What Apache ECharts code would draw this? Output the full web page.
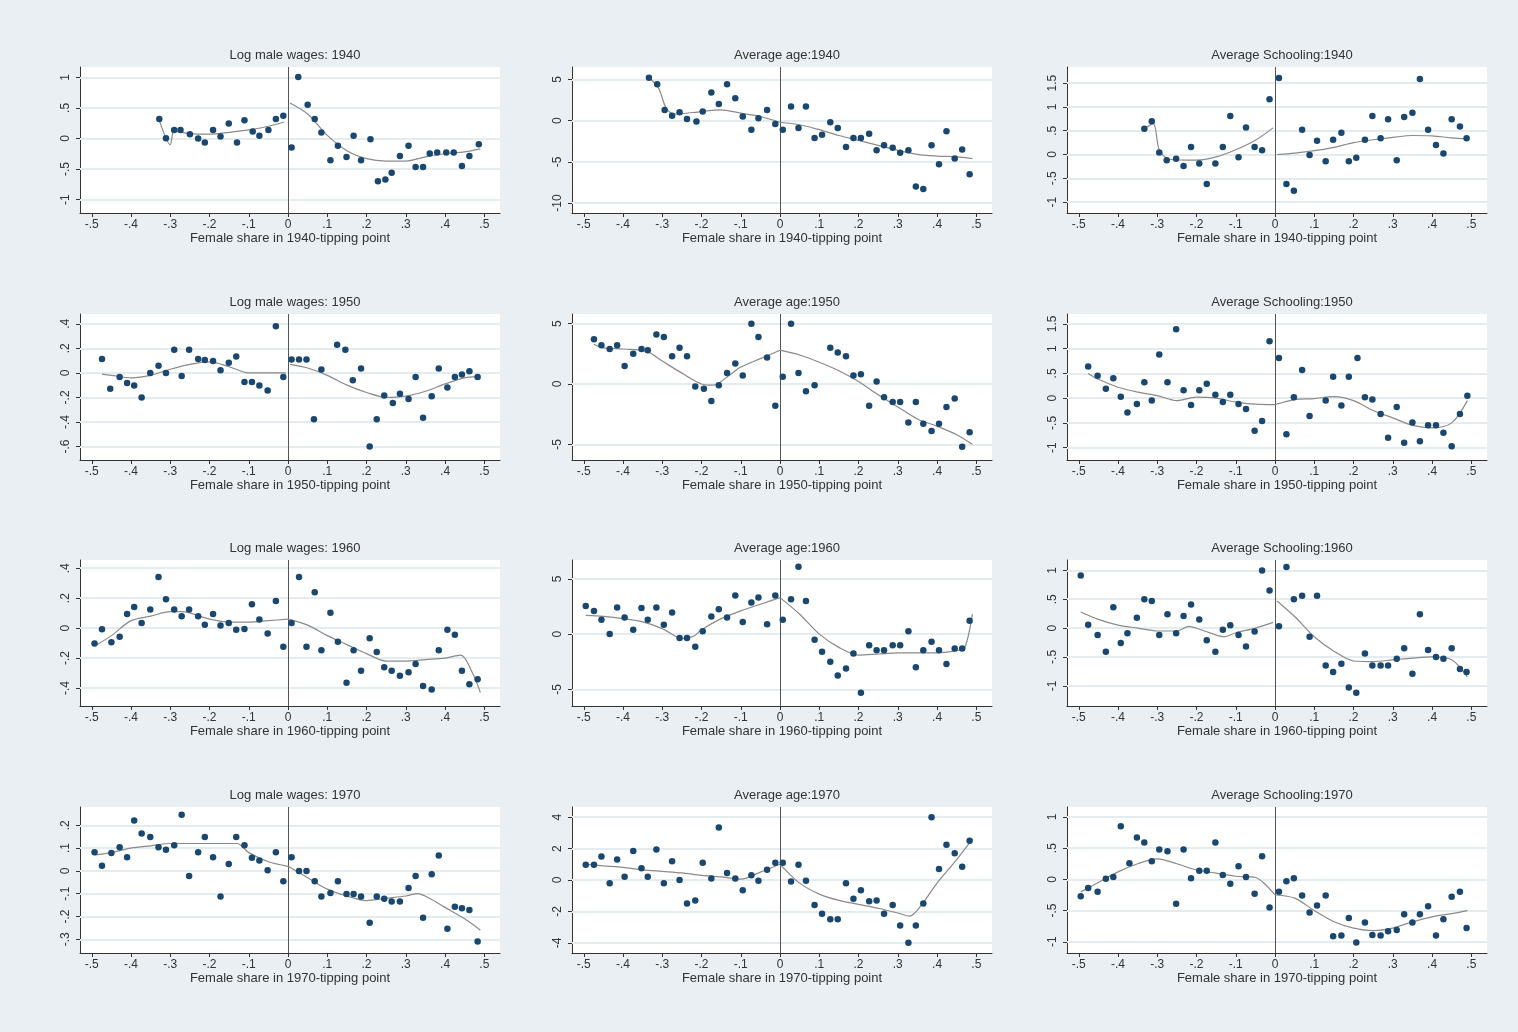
<!DOCTYPE html>
<html><head><meta charset="utf-8">
<script src="https://cdn.jsdelivr.net/npm/echarts@6/dist/echarts.min.js"></script>
<style>html,body{margin:0;background:#e9eff2}#chart{width:1518px;height:1032px}</style>
</head><body><div id="chart"></div>
<script>
// panel titles
const titles = ["Log male wages: 1940","Average age:1940","Average Schooling:1940",
  "Log male wages: 1950","Average age:1950","Average Schooling:1950",
  "Log male wages: 1960","Average age:1960","Average Schooling:1960",
  "Log male wages: 1970","Average age:1970","Average Schooling:1970"];
const years = [1940,1950,1960,1970];
const xTicks = [-0.5,-0.4,-0.3,-0.2,-0.1,0,0.1,0.2,0.3,0.4,0.5];

// y ticks and axis ranges per panel
const yTicks = [
  [-1,-0.5,0,0.5,1],[-10,-5,0,5],[-1,-0.5,0,0.5,1,1.5],
  [-0.6,-0.4,-0.2,0,0.2,0.4],[-5,0,5],[-1,-0.5,0,0.5,1,1.5],
  [-0.4,-0.2,0,0.2,0.4],[-5,0,5],[-1,-0.5,0,0.5,1],
  [-0.3,-0.2,-0.1,0,0.1,0.2],[-4,-2,0,2,4],[-1,-0.5,0,0.5,1]];
const yRange = [[-1.22,1.17],[-11.2,6.5],[-1.23,1.84],[-0.71,0.48],[-6.3,5.8],[-1.25,1.7],
  [-0.52,0.455],[-6.5,6.7],[-1.35,1.18],[-0.36,0.28],[-4.65,4.65],[-1.18,1.16]];

// scatter points: x, y
const px = [
 [-0.328,-0.311,-0.29,-0.274,-0.25,-0.229,-0.212,-0.191,-0.172,-0.151,-0.13,-0.111,-0.09,-0.073,-0.05,-0.031,-0.012,0.009,0.026,0.05,0.068,0.085,0.108,0.127,0.149,0.167,0.186,0.21,0.229,0.248,0.264,0.285,0.307,0.325,0.344,0.361,0.38,0.403,0.422,0.443,0.462,0.486],
 [-0.334,-0.313,-0.294,-0.275,-0.256,-0.237,-0.213,-0.197,-0.175,-0.156,-0.135,-0.114,-0.095,-0.073,-0.055,-0.033,-0.012,0.007,0.028,0.047,0.066,0.088,0.107,0.128,0.147,0.168,0.187,0.206,0.227,0.246,0.265,0.287,0.306,0.327,0.346,0.365,0.386,0.405,0.424,0.445,0.464,0.483],
 [-0.333,-0.314,-0.295,-0.276,-0.252,-0.233,-0.214,-0.193,-0.174,-0.152,-0.133,-0.114,-0.093,-0.074,-0.052,-0.033,-0.014,0.01,0.029,0.048,0.069,0.088,0.107,0.129,0.148,0.169,0.188,0.207,0.229,0.248,0.269,0.288,0.31,0.329,0.35,0.369,0.39,0.41,0.429,0.45,0.471,0.488],
 [-0.474,-0.453,-0.429,-0.41,-0.392,-0.373,-0.351,-0.33,-0.311,-0.29,-0.271,-0.252,-0.229,-0.212,-0.191,-0.172,-0.151,-0.132,-0.111,-0.092,-0.073,-0.052,-0.031,-0.012,0.009,0.028,0.047,0.066,0.085,0.125,0.146,0.165,0.186,0.208,0.226,0.245,0.267,0.285,0.307,0.325,0.344,0.366,0.384,0.406,0.425,0.443,0.462,0.483],
 [-0.474,-0.455,-0.434,-0.415,-0.396,-0.374,-0.353,-0.337,-0.315,-0.296,-0.275,-0.256,-0.237,-0.216,-0.194,-0.175,-0.156,-0.135,-0.114,-0.095,-0.073,-0.055,-0.033,-0.012,0.007,0.028,0.047,0.066,0.088,0.128,0.147,0.168,0.187,0.206,0.227,0.246,0.265,0.287,0.306,0.327,0.346,0.365,0.386,0.405,0.424,0.445,0.464,0.483],
 [-0.476,-0.452,-0.431,-0.412,-0.393,-0.376,-0.352,-0.333,-0.314,-0.295,-0.274,-0.252,-0.233,-0.214,-0.193,-0.174,-0.152,-0.133,-0.114,-0.093,-0.074,-0.052,-0.033,-0.014,0.01,0.029,0.048,0.069,0.088,0.129,0.148,0.169,0.188,0.21,0.229,0.248,0.269,0.288,0.31,0.329,0.35,0.369,0.39,0.41,0.429,0.45,0.471,0.49],
 [-0.493,-0.474,-0.45,-0.429,-0.41,-0.392,-0.373,-0.351,-0.33,-0.311,-0.29,-0.271,-0.252,-0.229,-0.212,-0.191,-0.172,-0.151,-0.132,-0.111,-0.092,-0.073,-0.052,-0.031,-0.012,0.009,0.028,0.047,0.068,0.085,0.108,0.127,0.149,0.167,0.186,0.208,0.226,0.245,0.264,0.285,0.307,0.325,0.344,0.366,0.384,0.406,0.425,0.443,0.462,0.483],
 [-0.495,-0.474,-0.455,-0.434,-0.415,-0.396,-0.374,-0.353,-0.337,-0.315,-0.296,-0.275,-0.256,-0.237,-0.216,-0.197,-0.175,-0.156,-0.135,-0.114,-0.095,-0.073,-0.055,-0.033,-0.012,0.007,0.028,0.047,0.066,0.088,0.107,0.128,0.147,0.168,0.187,0.206,0.227,0.246,0.265,0.287,0.306,0.327,0.346,0.365,0.386,0.405,0.424,0.445,0.464,0.483],
 [-0.495,-0.476,-0.452,-0.431,-0.412,-0.393,-0.376,-0.352,-0.333,-0.314,-0.295,-0.274,-0.252,-0.233,-0.214,-0.193,-0.174,-0.152,-0.133,-0.114,-0.093,-0.074,-0.052,-0.033,-0.014,0.01,0.029,0.048,0.069,0.088,0.107,0.129,0.148,0.169,0.188,0.207,0.229,0.248,0.269,0.288,0.31,0.329,0.35,0.369,0.39,0.41,0.429,0.45,0.471,0.488],
 [-0.493,-0.474,-0.45,-0.429,-0.41,-0.392,-0.373,-0.351,-0.33,-0.311,-0.29,-0.271,-0.252,-0.229,-0.212,-0.191,-0.172,-0.151,-0.132,-0.111,-0.092,-0.073,-0.052,-0.031,-0.012,0.009,0.028,0.047,0.068,0.085,0.108,0.127,0.149,0.167,0.186,0.208,0.226,0.245,0.264,0.285,0.307,0.325,0.344,0.366,0.384,0.406,0.425,0.443,0.462,0.483],
 [-0.495,-0.474,-0.455,-0.434,-0.415,-0.396,-0.374,-0.353,-0.337,-0.315,-0.296,-0.275,-0.256,-0.237,-0.216,-0.197,-0.175,-0.156,-0.135,-0.114,-0.095,-0.073,-0.055,-0.033,-0.012,0.007,0.028,0.047,0.066,0.088,0.107,0.128,0.147,0.168,0.187,0.206,0.227,0.246,0.265,0.287,0.306,0.327,0.346,0.365,0.386,0.405,0.424,0.445,0.464,0.483],
 [-0.495,-0.476,-0.452,-0.431,-0.412,-0.393,-0.371,-0.352,-0.333,-0.314,-0.295,-0.274,-0.252,-0.233,-0.214,-0.193,-0.174,-0.152,-0.133,-0.114,-0.093,-0.074,-0.052,-0.033,-0.014,0.01,0.029,0.048,0.069,0.088,0.107,0.129,0.148,0.169,0.188,0.207,0.229,0.248,0.269,0.288,0.31,0.329,0.35,0.369,0.39,0.41,0.429,0.45,0.471,0.488]
];
const py = [
 [0.32,0.005,0.137,0.137,0.07,0,-0.066,0.137,0.033,0.247,-0.066,0.3,0.115,0.044,0.137,0.32,0.374,-0.148,1.005,0.55,0.32,0.099,-0.357,-0.121,-0.302,0.044,-0.357,-0.011,-0.7,-0.67,-0.56,-0.286,-0.121,-0.467,-0.467,-0.247,-0.23,-0.23,-0.23,-0.45,-0.286,-0.093],
 [5.2,4.4,1.3,0.6,1.0,0.2,-0.1,1.1,3.4,2.0,4.4,2.7,0.5,-1.1,0.3,1.3,-0.4,-1.1,1.7,-0.9,1.7,-2.1,-1.7,-0.2,-0.9,-3.2,-2.1,-2.1,-1.6,-3.6,-3.0,-3.3,-3.9,-3.6,-8.0,-8.3,-3.0,-5.3,-1.3,-4.6,-3.5,-6.5],
 [0.54,0.7,0.04,-0.12,-0.09,-0.24,0.16,-0.19,-0.62,-0.19,0.16,0.81,-0.06,0.57,0.16,0.09,1.16,1.61,-0.62,-0.76,0.52,-0.01,0.29,-0.14,0.31,0.46,-0.14,-0.07,0.31,0.81,0.34,0.74,-0.12,0.79,0.88,1.59,0.52,0.2,0.02,0.74,0.59,0.34],
 [0.113,-0.13,-0.033,-0.083,-0.102,-0.2,0,0.058,0,0.188,-0.025,0.188,0.113,0.105,0.097,0.022,0.083,0.133,-0.075,-0.075,-0.102,-0.144,0.381,-0.033,0.11,0.11,0.11,-0.378,0.028,0.229,0.188,-0.061,0.036,-0.6,-0.378,-0.185,-0.246,-0.171,-0.213,-0.033,-0.365,-0.19,0.036,-0.119,-0.033,-0.014,0.014,-0.033],
 [3.7,3.2,2.9,3.2,1.5,2.5,2.9,2.8,4.1,3.9,2.3,3.0,2.3,-0.2,-0.4,-1.4,-0.1,0.9,1.7,0.7,5.0,3.9,2.2,-1.8,0.6,5.0,0.9,-0.6,-0.1,3.0,2.6,2.3,0.7,0.8,-1.8,0.2,-1.1,-1.5,-1.5,-3.2,-1.5,-3.3,-3.9,-3.3,-1.9,-1.2,-5.2,-4.0],
 [0.64,0.45,0.19,0.4,0.03,-0.29,-0.12,0.32,-0.05,0.88,0.32,1.39,0.16,-0.14,0.16,0.29,0.07,-0.08,0.07,-0.12,-0.22,-0.66,-0.46,1.15,0.81,-0.73,0.02,0.57,-0.36,-0.05,0.43,-0.15,0.43,0.81,0.02,-0.03,-0.32,-0.8,-0.18,-0.9,-0.49,-0.87,-0.55,-0.55,-0.7,-0.97,-0.32,0.05],
 [-0.102,-0.007,-0.095,-0.057,0.095,0.141,0.034,0.125,0.341,0.193,0.125,0.08,0.125,0.08,0.023,0.095,0.018,0.034,-0.011,-0.005,0.159,0.057,-0.036,0.182,-0.125,0.034,0.341,-0.125,0.239,-0.148,0.102,-0.091,-0.364,-0.148,-0.284,-0.068,-0.159,-0.261,-0.284,-0.318,-0.295,-0.239,-0.386,-0.409,-0.148,-0.011,-0.045,-0.284,-0.375,-0.341],
 [2.55,2.1,1.3,0,2.4,1.5,0.4,2.35,1.3,2.4,0.85,1.95,-0.35,-0.35,-1.15,0.25,1.6,2.25,1.5,3.5,1.1,2.85,3.3,0.9,3.5,1.3,3.15,6.1,3.0,-0.5,-1.6,-2.5,-3.75,-3.1,-1.75,-5.3,-1.0,-1.45,-1.45,-1.0,-1.0,0.25,-3.0,-1.45,-0.7,-1.45,-2.7,-1.3,-1.3,1.2],
 [0.91,0.06,-0.12,-0.41,0.36,-0.26,-0.09,0.18,0.5,0.47,-0.12,0.24,-0.09,0.21,0.41,0.15,-0.21,-0.41,-0.03,0.05,-0.12,-0.32,-0.06,1.0,0.65,0.03,1.06,0.5,0.56,-0.15,0.56,-0.65,-0.76,-0.62,-1.03,-1.12,-0.44,-0.65,-0.65,-0.65,-0.53,-0.35,-0.79,0.24,-0.38,-0.5,-0.53,-0.35,-0.71,-0.76],
 [0.082,0.022,0.078,0.104,0.06,0.221,0.164,0.149,0.104,0.093,0.112,0.246,-0.022,0.082,0.149,0.06,-0.112,0.03,0.149,0.112,0.057,0.045,0.003,0.082,-0.045,0.06,0,0,-0.045,-0.112,-0.097,-0.045,-0.101,-0.101,-0.112,-0.227,-0.112,-0.122,-0.134,-0.134,-0.075,-0.022,-0.206,-0.015,0.067,-0.254,-0.157,-0.164,-0.172,-0.31],
 [0.97,0.97,1.5,-0.2,1.3,0.2,1.85,0.75,0.2,1.95,-0.2,1.2,0,-1.5,-1.3,1.1,0.1,3.35,0.45,0.1,-0.65,0.3,-0.05,0.65,1.1,1.1,-0.1,0.97,-0.05,-1.6,-2.15,-2.5,-2.5,-0.2,-1.2,-0.65,-1.35,-1.3,-2.15,-1.6,-2.9,-4.0,-2.9,-1.5,4.0,0.7,2.25,1.7,0.85,2.5],
 [-0.27,-0.14,-0.2,0.01,0.04,0.85,0.26,0.67,0.59,0.29,0.48,0.45,-0.39,0.48,0.02,0.14,0.14,0.59,0.07,-0.07,0.21,0.04,-0.23,0.37,-0.45,-0.2,-0.03,0.02,-0.26,-0.53,-0.42,-0.26,-0.91,-0.9,-0.62,-1.01,-0.69,-0.89,-0.9,-0.83,-0.81,-0.56,-0.69,-0.56,-0.43,-0.9,-0.64,-0.28,-0.2,-0.78]
];

// smoothed fit, left and right of the cutoff: [x, y]
const fitL = [
 [[-0.328,0.3],[-0.3,-0.1],[-0.29,0.12],[-0.25,0.08],[-0.2,0.07],[-0.15,0.1],[-0.1,0.14],[-0.05,0.2],[-0.01,0.27]],
 [[-0.334,5.2],[-0.31,4.0],[-0.29,1.5],[-0.27,0.8],[-0.2,1.1],[-0.15,1.3],[-0.1,0.9],[-0.05,0.5],[0,-0.2]],
 [[-0.333,0.55],[-0.31,0.65],[-0.295,0.1],[-0.27,-0.1],[-0.2,-0.12],[-0.15,-0.05],[-0.1,0.1],[-0.05,0.3],[-0.005,0.56]],
 [[-0.474,-0.01],[-0.45,-0.02],[-0.4,-0.04],[-0.35,-0.02],[-0.3,0.03],[-0.25,0.07],[-0.2,0.09],[-0.15,0.05],[-0.1,0],[-0.05,0],[-0.005,0]],
 [[-0.474,3.3],[-0.45,3.0],[-0.4,2.9],[-0.34,2.7],[-0.3,1.9],[-0.25,0.9],[-0.2,0],[-0.17,-0.1],[-0.13,0.7],[-0.1,1.4],[-0.05,2.1],[0,2.8]],
 [[-0.476,0.5],[-0.45,0.38],[-0.4,0.22],[-0.35,0.12],[-0.3,0.05],[-0.25,-0.05],[-0.2,0.02],[-0.15,0],[-0.1,-0.08],[-0.05,-0.12],[0,-0.13]],
 [[-0.493,-0.12],[-0.45,-0.05],[-0.4,0.05],[-0.35,0.08],[-0.3,0.11],[-0.27,0.11],[-0.2,0.06],[-0.15,0.04],[-0.1,0.04],[-0.05,0.05],[0,0.06]],
 [[-0.495,1.7],[-0.45,1.6],[-0.4,1.4],[-0.35,1.1],[-0.3,0.5],[-0.25,-0.4],[-0.22,-0.2],[-0.2,0.4],[-0.15,1.4],[-0.1,2.1],[-0.05,2.7],[0,3.3]],
 [[-0.495,0.28],[-0.45,0.15],[-0.4,0.05],[-0.35,0],[-0.3,-0.05],[-0.25,-0.05],[-0.22,0.03],[-0.18,-0.05],[-0.13,-0.15],[-0.1,-0.08],[-0.05,0],[-0.005,0.1]],
 [[-0.493,0.07],[-0.45,0.08],[-0.4,0.1],[-0.35,0.11],[-0.3,0.12],[-0.2,0.12],[-0.13,0.12],[-0.1,0.08],[-0.05,0.04],[0,0.02]],
 [[-0.495,1.0],[-0.45,0.9],[-0.4,0.8],[-0.35,0.65],[-0.3,0.55],[-0.25,0.45],[-0.2,0.3],[-0.15,0.2],[-0.1,0.05],[-0.05,0.5],[0,1.0]],
 [[-0.495,-0.2],[-0.45,-0.05],[-0.4,0.12],[-0.35,0.25],[-0.3,0.33],[-0.25,0.25],[-0.2,0.15],[-0.15,0.1],[-0.1,0.05],[-0.05,0.03],[-0.03,-0.05],[0,-0.25]]
];
const fitR = [
 [[0.005,0.58],[0.05,0.4],[0.1,0.05],[0.15,-0.2],[0.2,-0.33],[0.25,-0.37],[0.3,-0.37],[0.35,-0.3],[0.4,-0.25],[0.45,-0.22],[0.49,-0.17]],
 [[0,-0.2],[0.05,-0.5],[0.1,-1.1],[0.15,-1.8],[0.2,-2.4],[0.25,-3.0],[0.3,-3.6],[0.35,-4.1],[0.4,-4.3],[0.45,-4.4],[0.49,-4.6]],
 [[0.005,0],[0.05,0.03],[0.1,0.08],[0.15,0.15],[0.2,0.25],[0.25,0.31],[0.3,0.36],[0.35,0.4],[0.4,0.39],[0.45,0.35],[0.49,0.33]],
 [[0.005,0.07],[0.05,0.04],[0.1,-0.02],[0.15,-0.1],[0.2,-0.16],[0.25,-0.2],[0.3,-0.19],[0.35,-0.15],[0.4,-0.09],[0.45,-0.04],[0.48,-0.03]],
 [[0,2.8],[0.05,2.4],[0.1,1.8],[0.15,1.1],[0.2,0.2],[0.25,-0.9],[0.3,-1.9],[0.35,-2.9],[0.4,-3.5],[0.45,-4.2],[0.49,-5.0]],
 [[0,-0.13],[0.05,-0.03],[0.1,-0.01],[0.15,0.03],[0.2,-0.05],[0.25,-0.25],[0.3,-0.4],[0.35,-0.55],[0.4,-0.6],[0.45,-0.5],[0.49,-0.05]],
 [[0,0.06],[0.05,0.02],[0.1,-0.05],[0.15,-0.11],[0.2,-0.17],[0.25,-0.22],[0.3,-0.22],[0.35,-0.21],[0.4,-0.2],[0.44,-0.18],[0.47,-0.3],[0.49,-0.43]],
 [[0,3.3],[0.05,1.8],[0.1,0],[0.15,-1.2],[0.2,-1.9],[0.25,-1.8],[0.3,-1.7],[0.35,-1.7],[0.4,-1.7],[0.45,-1.5],[0.47,-1.3],[0.49,1.8]],
 [[0.005,0.47],[0.05,0.2],[0.1,-0.15],[0.15,-0.4],[0.2,-0.57],[0.25,-0.58],[0.3,-0.55],[0.35,-0.52],[0.4,-0.5],[0.45,-0.55],[0.49,-0.85]],
 [[0,0.02],[0.05,-0.03],[0.1,-0.08],[0.15,-0.11],[0.2,-0.13],[0.25,-0.12],[0.3,-0.11],[0.33,-0.1],[0.36,-0.12],[0.4,-0.16],[0.45,-0.21],[0.49,-0.26]],
 [[0,1.0],[0.05,-0.2],[0.1,-0.9],[0.15,-1.3],[0.2,-1.55],[0.25,-1.8],[0.3,-2.1],[0.33,-2.3],[0.36,-1.6],[0.4,-0.2],[0.45,1.3],[0.49,2.6]],
 [[0,-0.25],[0.05,-0.3],[0.1,-0.5],[0.15,-0.68],[0.2,-0.78],[0.25,-0.82],[0.3,-0.78],[0.35,-0.68],[0.4,-0.6],[0.45,-0.55],[0.49,-0.5]]
];

const colLeft = [80, 572, 1067];
const rowTop = [67, 314, 560, 807];
const W = 420, H = 146;

// stata style: .5 instead of 0.5
function fmt(v) {
  let s = String(Math.round(v * 100) / 100);
  return s.replace(/^0\./, ".").replace(/^-0\./, "-.");
}

const grid = [], xAxis = [], yAxis = [], series = [], title = [];
for (let i = 0; i < 12; i++) {
  const r = Math.floor(i / 3), c = i % 3;
  grid.push({ left: colLeft[c], top: rowTop[r], width: W, height: H, show: true,
    backgroundColor: "#fff", borderWidth: 0 });
  title.push({ text: titles[i], left: colLeft[c] + W / 2, top: rowTop[r] - 23, textAlign: "center",
    textStyle: { fontSize: 13, fontWeight: "normal", color: "#333", fontFamily: "Liberation Sans" } });
  xAxis.push({ type: "value", gridIndex: i, min: -0.53, max: 0.54,
    name: "Female share in " + years[r] + "-tipping point", nameLocation: "middle", nameGap: 14,
    nameTextStyle: { fontSize: 13, color: "#333", fontFamily: "Liberation Sans" },
    axisLine: { show: true, onZero: false, lineStyle: { color: "#333" } },
    axisTick: { show: true, customValues: xTicks, length: 4, lineStyle: { color: "#333" } },
    axisLabel: { customValues: xTicks, formatter: fmt, fontSize: 12, color: "#333", margin: 6 },
    splitLine: { show: false } });
  yAxis.push({ type: "value", gridIndex: i, min: yRange[i][0], max: yRange[i][1],
    axisLine: { show: true, onZero: false, lineStyle: { color: "#333" } },
    axisTick: { show: true, customValues: yTicks[i], length: 4, lineStyle: { color: "#333" } },
    axisLabel: { customValues: yTicks[i], formatter: fmt, rotate: 90, fontSize: 12, color: "#333", margin: 8 },
    splitLine: { show: false } });
  // grid lines and cutoff line sit under the marks
  series.push({ type: "line", xAxisIndex: i, yAxisIndex: i, z: 1, data: [], symbol: "none",
    markLine: { silent: true, symbol: "none", label: { show: false }, z: 1,
      data: yTicks[i].map(v => ({ yAxis: v, lineStyle: { color: "#e4ecf0", width: 2, type: "solid" } }))
        .concat([{ xAxis: 0, lineStyle: { color: "#555", width: 1, type: "solid" } }]) } });
  [fitL[i], fitR[i]].forEach(f => series.push({ type: "line", xAxisIndex: i, yAxisIndex: i, z: 2,
    data: f, smooth: 0.3, symbol: "none", lineStyle: { color: "#8a8a8a", width: 1.2 } }));
  series.push({ type: "scatter", xAxisIndex: i, yAxisIndex: i, z: 5, symbolSize: 6.5,
    itemStyle: { color: "#1a476f", opacity: 1 }, data: px[i].map((x, k) => [x, py[i][k]]) });
}

const myChart = echarts.init(document.getElementById("chart"));
myChart.setOption({ backgroundColor: "#e9eff2", animation: false, title, grid, xAxis, yAxis, series });
</script></body></html>
